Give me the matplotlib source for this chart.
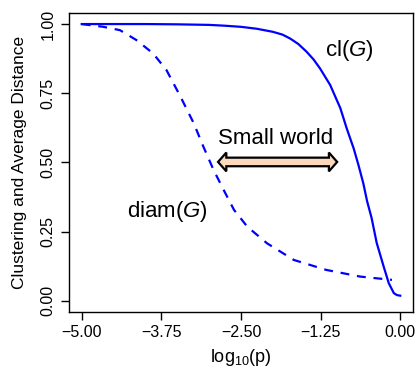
import matplotlib
matplotlib.use("Agg")
import matplotlib.pyplot as plt
from matplotlib.patches import Polygon

plt.rcParams['font.family'] = ['Liberation Sans', 'DejaVu Sans']
plt.rcParams['mathtext.fontset'] = 'custom'
plt.rcParams['mathtext.rm'] = 'Liberation Sans'
plt.rcParams['mathtext.it'] = 'Liberation Sans:italic'

# clustering curve (solid)
cl_x = [-5.0, -4.0, -3.5, -3.0, -2.75, -2.5, -2.25, -2.0, -1.85, -1.73, -1.6, -1.47,
        -1.36, -1.26, -1.1, -0.94, -0.84, -0.73, -0.655, -0.58, -0.52, -0.45, -0.37,
        -0.26, -0.18, -0.1, -0.05, 0.0]
cl_y = [1.0, 1.0, 0.999, 0.997, 0.994, 0.99, 0.983, 0.972, 0.962, 0.948, 0.928, 0.90,
        0.872, 0.84, 0.78, 0.696, 0.623, 0.55, 0.49, 0.425, 0.36, 0.30, 0.21,
        0.124, 0.064, 0.028, 0.021, 0.019]

# diameter curve (dashed)
diam_x = [-5.0, -4.66, -4.4, -4.14, -3.88, -3.67, -3.45, -3.24, -3.09, -2.93, -2.77,
          -2.61, -2.4, -2.09, -1.67, -1.16, -0.63, -0.13]
diam_y = [1.0, 0.99, 0.978, 0.942, 0.894, 0.834, 0.738, 0.641, 0.557, 0.473, 0.40,
          0.329, 0.268, 0.208, 0.148, 0.112, 0.088, 0.076]

x_ticks = [-5.0, -3.75, -2.5, -1.25, 0.0]
y_ticks = [0.0, 0.25, 0.5, 0.75, 1.0]

# small-world range shown by the double arrow
sw_range = (-2.86, -0.99)
sw_level = 0.502


def fmt(v):
    return ('%.2f' % v).replace('-', '\u2212')


def double_arrow(x0, x1, y, head_len, head_h, shaft_h):
    """outline of a fat double-headed arrow"""
    pts = [(x0, y),
           (x0 + head_len, y + head_h),
           (x0 + head_len, y + shaft_h),
           (x1 - head_len, y + shaft_h),
           (x1 - head_len, y + head_h),
           (x1, y),
           (x1 - head_len, y - head_h),
           (x1 - head_len, y - shaft_h),
           (x0 + head_len, y - shaft_h),
           (x0 + head_len, y - head_h)]
    return Polygon(pts, closed=True, facecolor='#fcd9bd', edgecolor='black',
                   lw=1.6, joinstyle='miter')


fig = plt.figure(figsize=(4.18, 3.71), dpi=100)
ax = fig.add_axes([0.165, 0.159, 0.823, 0.806])

ax.plot(cl_x, cl_y, color='#0000ff', lw=1.6)
ax.plot(diam_x, diam_y, color='#0000ff', lw=1.6, dashes=(4, 3.5))

ax.set_xlim(-5.2, 0.2)
ax.set_ylim(-0.04, 1.04)
ax.set_xticks(x_ticks)
ax.set_xticklabels([fmt(v) for v in x_ticks])
ax.set_yticks(y_ticks)
ax.set_yticklabels([fmt(v) for v in y_ticks], rotation=90, va='center')
ax.tick_params(direction='out', length=5.5, width=1, labelsize=11.5, pad=4)
for s in ax.spines.values():
    s.set_linewidth(1)

ax.set_xlabel('log$_{10}$(p)', fontsize=13, labelpad=5)
ax.set_ylabel('Clustering and Average Distance', fontsize=12.5, labelpad=10)

ax.text(-0.80, 0.906, 'cl($\\mathit{G}$)', fontsize=16, ha='center', va='center')
ax.text(-3.66, 0.322, 'diam($\\mathit{G}$)', fontsize=16, ha='center', va='center')
ax.text(-1.95, 0.587, 'Small world', fontsize=16, ha='center', va='center')

ax.add_patch(double_arrow(sw_range[0], sw_range[1], sw_level, 0.13, 0.034, 0.0155))

fig.savefig('out.png', dpi=100)
